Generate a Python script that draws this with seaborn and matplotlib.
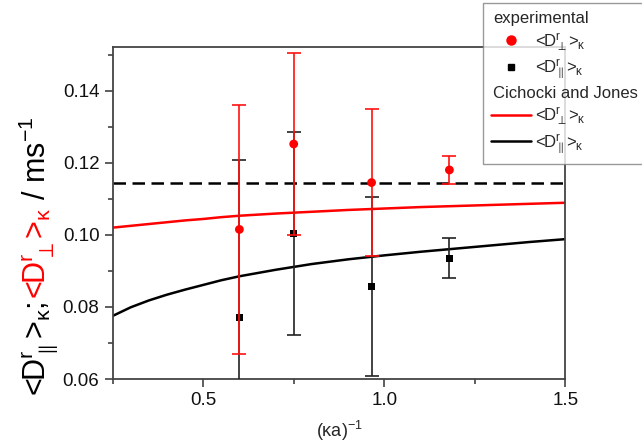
import matplotlib
matplotlib.use("Agg")
import matplotlib.pyplot as plt
import matplotlib.transforms as mtransforms
from matplotlib.lines import Line2D
from matplotlib.ticker import MultipleLocator
import seaborn as sns

# experimental points
x_exp = [0.60, 0.75, 0.965, 1.18]
perp_mean = [0.1015, 0.1252, 0.1145, 0.1180]
perp_err = [0.0346, 0.0253, 0.0205, 0.0040]
par_mean = [0.0770, 0.1004, 0.0857, 0.0935]
par_err = [0.0437, 0.0281, 0.0248, 0.0056]

# Cichocki and Jones curves
x_theory = [0.25, 0.30, 0.35, 0.40, 0.45, 0.50, 0.55, 0.60, 0.70, 0.80, 0.90,
            1.00, 1.10, 1.20, 1.30, 1.40, 1.50]
perp_theory = [0.1020, 0.1025, 0.1030, 0.1035, 0.1040, 0.1044, 0.1049, 0.1053, 0.1059, 0.1064, 0.1069,
               0.1073, 0.1077, 0.1080, 0.1083, 0.1086, 0.1089]
par_theory = [0.0775, 0.0799, 0.0818, 0.0834, 0.0848, 0.0861, 0.0874, 0.0885, 0.0903, 0.0919, 0.0932,
              0.0943, 0.0953, 0.0962, 0.0971, 0.0980, 0.0988]

dashed_level = 0.1145

x_ticks = [0.5, 1.0, 1.5]
y_ticks = [0.06, 0.08, 0.10, 0.12, 0.14]

sns.set_style("ticks")
plt.rcParams['font.family'] = ['Liberation Sans', 'DejaVu Sans']
plt.rcParams['mathtext.fontset'] = 'custom'
plt.rcParams['mathtext.rm'] = 'Liberation Sans'
plt.rcParams['mathtext.it'] = 'Liberation Sans'
plt.rcParams['mathtext.bf'] = 'Liberation Sans:bold'

fig = plt.figure(figsize=(6.42, 4.48), dpi=100)
ax = fig.add_axes([0.1755, 0.154, 0.705, 0.7418])

ax.axhline(dashed_level, color='black', lw=1.8, dashes=(5, 2.6), zorder=2)
sns.lineplot(x=x_theory, y=perp_theory, color='red', lw=1.8, ax=ax, zorder=2)
sns.lineplot(x=x_theory, y=par_theory, color='black', lw=1.8, ax=ax, zorder=2)

ax.errorbar(x_exp, par_mean, yerr=par_err, fmt='none', ecolor='#222222',
            elinewidth=1.2, capsize=4.7, capthick=1.2, zorder=3)
sns.scatterplot(x=x_exp, y=par_mean, marker='s', color='black', s=26,
                edgecolor='none', ax=ax, zorder=4)
ax.errorbar(x_exp, perp_mean, yerr=perp_err, fmt='none', ecolor='#ff1010',
            elinewidth=1.2, capsize=4.7, capthick=1.2, zorder=5)
sns.scatterplot(x=x_exp, y=perp_mean, marker='o', color='red', s=40,
                edgecolor='none', ax=ax, zorder=6)

ax.set_xlim(0.25, 1.5)
ax.set_ylim(0.06, 0.1522)
ax.set_xticks(x_ticks)
ax.set_yticks(y_ticks)
ax.xaxis.set_minor_locator(MultipleLocator(0.25))
ax.yaxis.set_minor_locator(MultipleLocator(0.01))
ax.tick_params(which='major', direction='out', length=6, width=1.1,
               labelsize=13.5, color='#333333', labelcolor='#111111')
ax.tick_params(which='minor', direction='out', length=3.5, width=1.1, color='#333333')
for sp in ax.spines.values():
    sp.set_visible(True)
    sp.set_linewidth(1.3)
    sp.set_color('#444444')

ax.set_xlabel('(κa)$^{-1}$', fontsize=13, labelpad=7)

perp_lbl = '<D$^{\\mathrm{r}}_{\\perp}$>$_{\\mathrm{κ}}$'
par_lbl = '<D$^{\\mathrm{r}}_{\\parallel}$>$_{\\mathrm{κ}}$'

handles = [
    Line2D([], [], linestyle='none'),
    Line2D([], [], linestyle='none', marker='o', color='red', markersize=6.5),
    Line2D([], [], linestyle='none', marker='s', color='black', markersize=5),
    Line2D([], [], linestyle='none'),
    Line2D([], [], color='red', lw=1.8),
    Line2D([], [], color='black', lw=1.8),
]
labels = ['experimental', perp_lbl, par_lbl, 'Cichocki and Jones', perp_lbl, par_lbl]
leg = ax.legend(handles, labels, loc='upper left', bbox_to_anchor=(0.752, 0.994),
                bbox_transform=fig.transFigure, borderaxespad=0, fontsize=12,
                handlelength=2.4, handletextpad=0.25, borderpad=0.5,
                labelspacing=0.28, frameon=True, fancybox=False)
leg.get_frame().set_edgecolor('#808080')
leg.get_frame().set_linewidth(1.0)
leg.set_zorder(10)
texts = leg.get_texts()
for i in (0, 3):
    t = texts[i]
    t.set_transform(t.get_transform() + mtransforms.Affine2D().translate(-42, 0))

# multi-coloured y label, built from three rotated pieces
pieces = [(par_lbl + '; ', 'black'), (perp_lbl, 'red'), (' / ms$^{-1}$', 'black')]
fig.canvas.draw()
renderer = fig.canvas.get_renderer()
y0 = 0.115
for txt, col in pieces:
    t = fig.text(0.072, y0, txt, rotation=90, rotation_mode='anchor',
                 ha='left', va='baseline', color=col, fontsize=22)
    bb = t.get_window_extent(renderer=renderer)
    y0 = fig.transFigure.inverted().transform((0, bb.y1))[1]

fig.savefig('out.png', dpi=100)
